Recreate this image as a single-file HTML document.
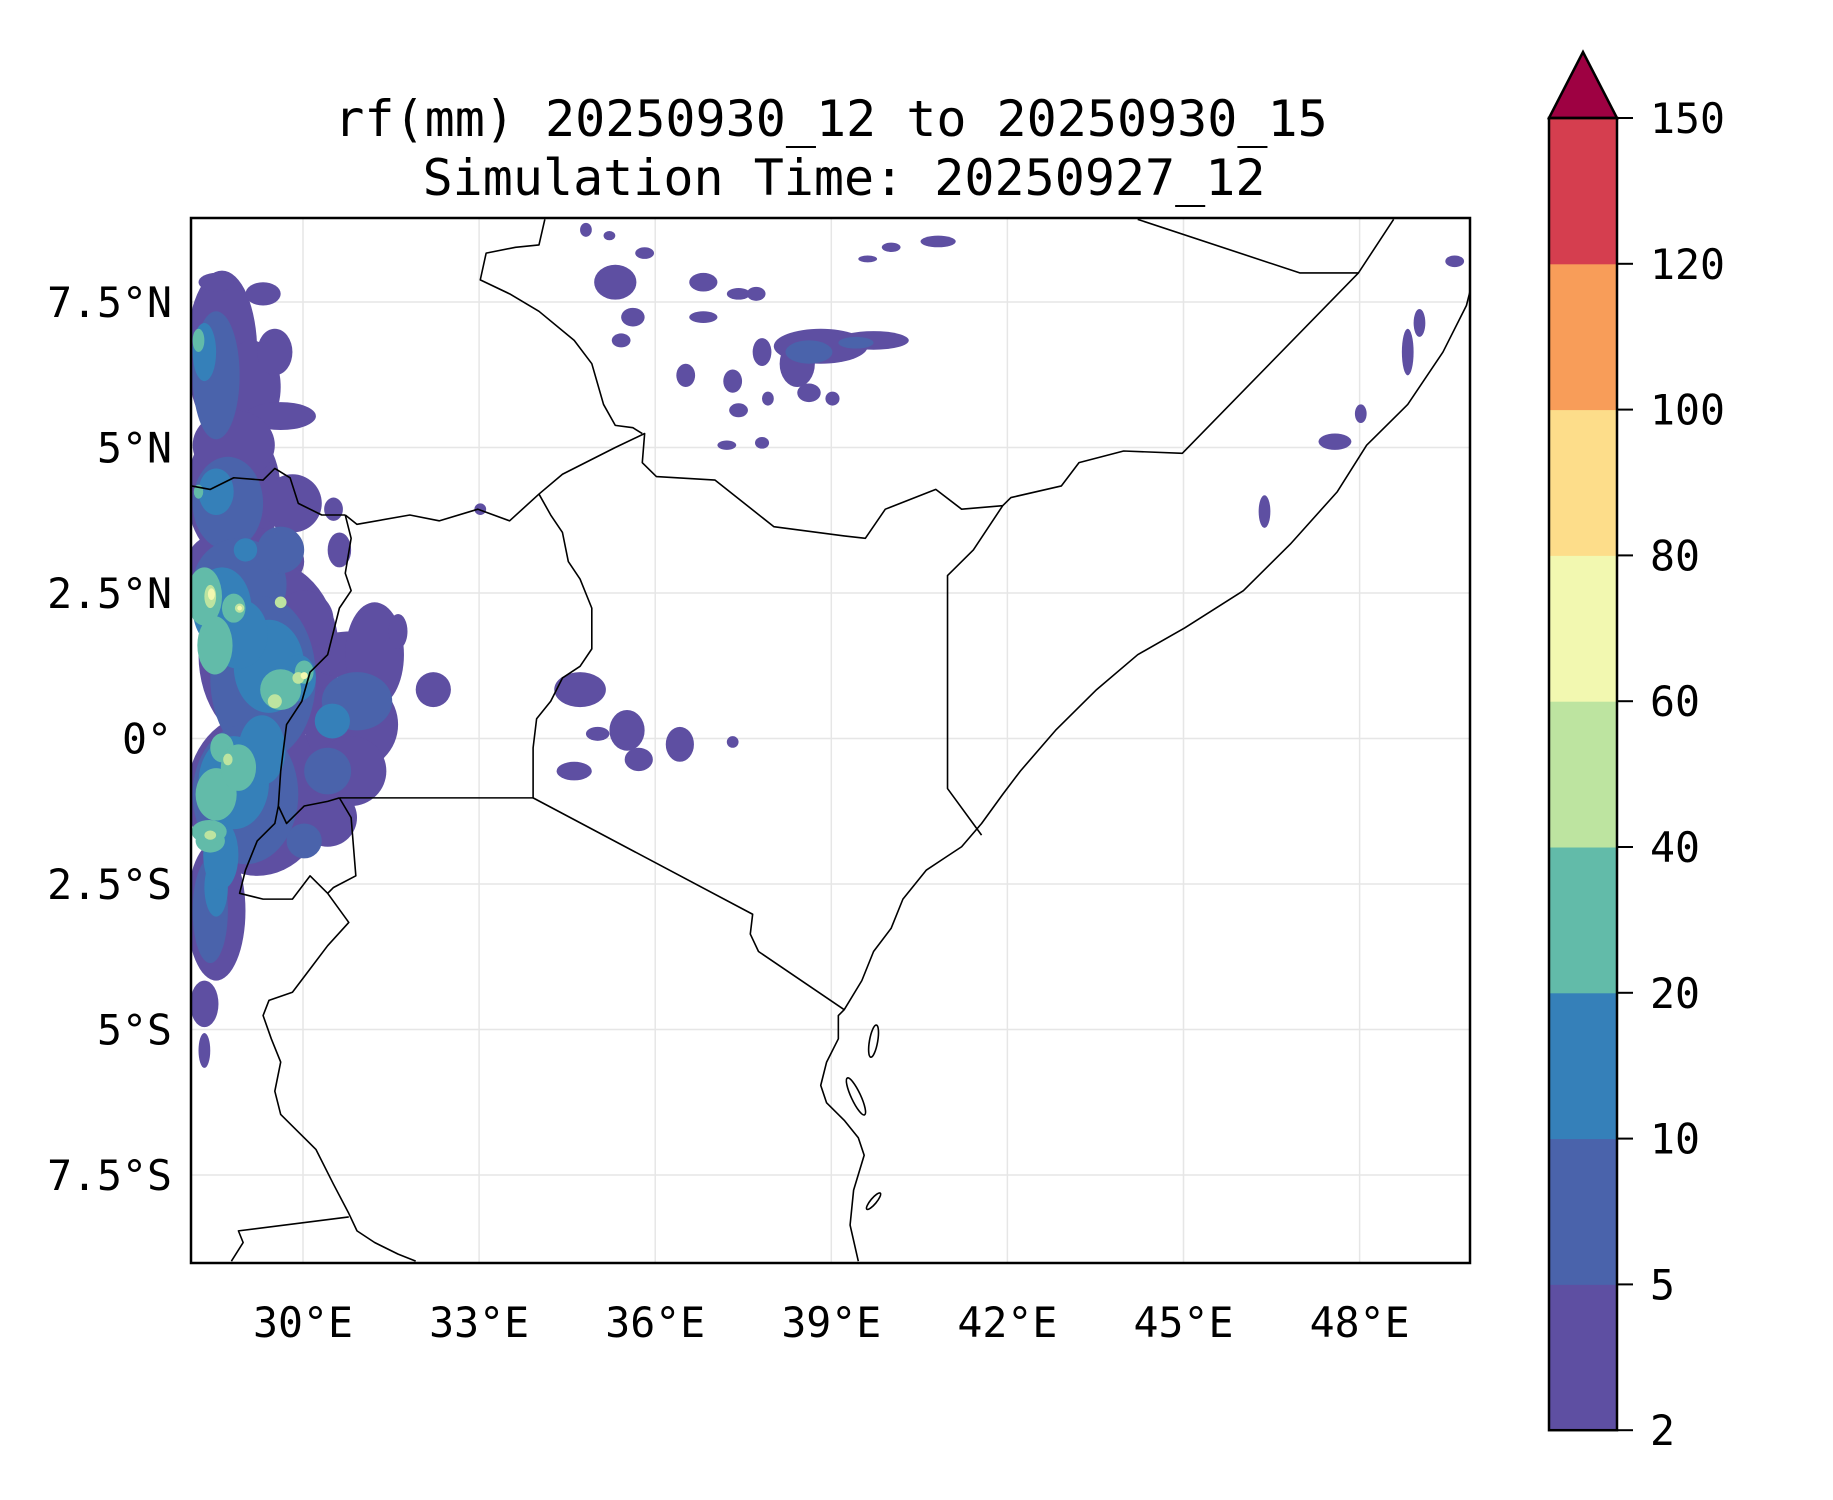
<!DOCTYPE html>
<html><head><meta charset="utf-8"><style>
html,body{margin:0;padding:0;background:#fff;}
svg{display:block;}
text{font-family:"DejaVu Sans Mono","Liberation Mono",monospace;fill:#000;}
</style></head><body>
<svg id="fig" width="1833" height="1500" viewBox="0 0 1833 1500">
<rect width="1833" height="1500" fill="#fff"/>
<text x="831" y="136" font-size="50" text-anchor="middle">rf(mm) 20250930_12 to 20250930_15</text>
<text x="844" y="195" font-size="50" text-anchor="middle">Simulation Time: 20250927_12</text>
<defs><clipPath id="ax"><rect x="191" y="218" width="1279" height="1045"/></clipPath></defs>
<g id="grid"></g>
<g id="rain" clip-path="url(#ax)"></g>
<g id="borders" clip-path="url(#ax)"></g>
<rect x="191" y="218" width="1279" height="1045" fill="none" stroke="#000" stroke-width="2.5"/>
<g id="ticks"></g>
<g id="cbar"></g>
</svg>
<script>
const lonTicks=[30,33,36,39,42,45,48];
const latTicks=[-7.5,-5,-2.5,0,2.5,5,7.5];
const latLabels=["7.5°S","5°S","2.5°S","0°","2.5°N","5°N","7.5°N"];
const lonLabels=["30°E","33°E","36°E","39°E","42°E","45°E","48°E"];
const levels=[2,5,10,20,40,60,80,100,120,150];
const levelColors=["#5e4fa2","#4a63ab","#3580b9","#62bba9","#bde4a0","#f2f8b0","#fddd8a","#f89d59","#d53e4f"];
const overColor="#9e0142";
// rain blobs: lon, lat, radius lon (deg), radius lat (deg), value (mm)
const blobLon=[28.62,28.82,29.02,29.42,29.22,28.52,28.32,28.32,29.12,29.62,29.32,28.52,30.82,31.22,30.82,30.82,30.42,32.22,31.62,29.82,30.52,30.62,30.02,29.52,28.82,34.72,34.62,35.02,35.52,35.72,36.42,37.32,35.32,35.62,35.42,34.82,35.82,36.82,37.42,36.52,37.32,37.82,38.42,38.82,39.72,38.62,37.42,37.92,37.22,37.82,33.02,36.82,37.72,39.02,40.82,40.02,35.22,39.62,46.38,47.58,48.02,48.82,49.02,49.62,
28.52,28.72,28.92,29.32,29.02,28.42,30.92,30.42,29.62,38.62,39.42,30.02,
28.32,28.52,28.62,29.42,28.82,28.52,29.02,29.92,28.9,29.3,28.6,30.5,
28.32,28.82,29.62,28.52,28.42,28.22,28.22,30.02,28.62,28.5,28.9,28.4,
28.42,28.92,29.62,29.52,29.92,28.72,28.42,
28.44,28.92,30.02];
const blobLat=[6.64,4.24,3.04,1.44,-0.96,-2.96,-4.56,-5.36,6.04,5.54,7.64,7.84,1.44,1.44,0.24,-0.56,-1.36,0.84,1.84,4.04,3.94,3.24,2.04,6.64,5.04,0.84,-0.56,0.08,0.14,-0.36,-0.1,-0.06,7.84,7.24,6.84,8.74,8.34,7.84,7.64,6.24,6.14,6.64,6.44,6.74,6.84,5.94,5.64,5.84,5.04,5.08,3.94,7.24,7.64,5.84,8.54,8.44,8.64,8.24,3.9,5.1,5.58,6.64,7.14,8.2,
6.24,4.04,2.64,1.04,-0.96,-2.96,0.64,-0.56,3.24,6.64,6.8,-1.76,
6.64,4.24,2.24,1.24,-0.76,-2.56,3.24,1.04,1.8,-0.2,-2.0,0.3,
2.44,2.24,0.84,-0.96,-1.76,6.84,4.24,1.14,-0.16,1.6,-0.5,-1.6,
2.44,2.24,2.34,0.64,1.04,-0.36,-1.66,
2.48,2.24,1.08];
const blobRx=[0.6,0.8,1.0,1.2,1.2,0.5,0.24,0.1,0.5,0.6,0.3,0.3,0.8,0.5,0.8,0.6,0.5,0.3,0.16,0.5,0.16,0.2,0.5,0.3,0.7,0.44,0.3,0.2,0.3,0.24,0.24,0.1,0.36,0.2,0.16,0.1,0.16,0.24,0.2,0.16,0.16,0.16,0.3,0.8,0.6,0.2,0.16,0.1,0.16,0.12,0.1,0.24,0.16,0.12,0.3,0.16,0.1,0.16,0.1,0.28,0.1,0.1,0.1,0.16,
0.4,0.6,0.8,0.9,0.9,0.3,0.6,0.4,0.4,0.4,0.3,0.3,
0.2,0.3,0.5,0.6,0.6,0.2,0.2,0.3,0.5,0.4,0.3,0.3,
0.3,0.2,0.35,0.35,0.25,0.1,0.08,0.16,0.2,0.3,0.3,0.3,
0.1,0.08,0.1,0.12,0.1,0.08,0.1,
0.06,0.04,0.06];
const blobRy=[1.4,1.2,0.6,1.6,1.4,1.2,0.4,0.3,0.8,0.24,0.2,0.16,0.4,0.9,0.8,0.6,0.5,0.3,0.3,0.5,0.2,0.3,0.5,0.4,0.6,0.3,0.16,0.12,0.35,0.2,0.3,0.1,0.3,0.16,0.12,0.12,0.1,0.16,0.1,0.2,0.2,0.24,0.4,0.3,0.16,0.16,0.12,0.12,0.08,0.1,0.1,0.1,0.12,0.12,0.1,0.08,0.08,0.06,0.28,0.14,0.16,0.4,0.24,0.1,
1.1,0.8,0.8,1.4,1.2,0.9,0.5,0.4,0.4,0.2,0.1,0.3,
0.5,0.4,0.7,0.8,0.8,0.5,0.2,0.4,0.6,0.6,0.6,0.3,
0.5,0.25,0.35,0.45,0.2,0.2,0.12,0.2,0.25,0.5,0.4,0.2,
0.2,0.08,0.1,0.12,0.1,0.1,0.08,
0.1,0.04,0.06];
const blobVal=[3,3,3,3,3,3,3,3,3,3,3,3,3,3,3,3,3,3,3,3,3,3,3,3,3,3,3,3,3,3,3,3,3,3,3,3,3,3,3,3,3,3,3,3,3,3,3,3,3,3,3,3,3,3,3,3,3,3,3,3,3,3,3,3,
7,7,7,7,7,7,7,7,7,7,7,7,
15,15,15,15,15,15,15,15,15,15,15,15,
30,30,30,30,30,30,30,30,30,30,30,30,
50,50,50,50,50,50,50,
70,70,70];
// border / coastline polylines: [lon,lat] pairs
const borderLines=[
[[33.92,-1.02],[37.66,-3.02],[37.62,-3.36],[37.76,-3.66],[39.22,-4.66]],
[[30.62,-1.02],[33.92,-1.02]],
[[39.46,-8.98],[39.32,-8.36],[39.38,-7.76],[39.56,-7.16],[39.46,-6.86],[39.22,-6.56],[38.92,-6.26],[38.82,-5.96],[38.92,-5.56],[39.12,-5.16],[39.12,-4.76],[39.22,-4.66],[39.52,-4.16],[39.72,-3.66],[40.02,-3.26],[40.22,-2.76],[40.62,-2.26],[40.92,-2.06],[41.22,-1.86],[41.56,-1.46],[41.92,-0.96],[42.22,-0.56],[42.82,0.14],[43.52,0.84],[44.22,1.44],[45.02,1.9],[46.02,2.54],[46.82,3.34],[47.62,4.24],[48.12,5.04],[48.82,5.74],[49.42,6.64],[49.82,7.44],[49.96,8.0],[50.06,8.24]],
[[44.22,8.92],[46.98,8.0],[47.98,8.0],[48.58,8.92]],
[[47.98,8.0],[44.98,4.9],[43.98,4.94],[43.22,4.74],[42.92,4.34],[42.06,4.14],[41.92,4.0],[41.42,3.24],[40.98,2.8],[40.98,-0.86],[41.56,-1.66]],
[[41.92,4.0],[41.22,3.94],[40.78,4.28],[39.92,3.94],[39.58,3.44],[39.22,3.48],[38.02,3.64],[37.02,4.44],[36.02,4.5],[35.78,4.74],[35.82,5.24],[35.32,5.0],[34.42,4.54],[34.02,4.2],[33.52,3.74],[32.98,3.94],[32.32,3.74],[31.82,3.84],[30.92,3.68],[30.72,3.84]],
[[35.78,5.24],[35.62,5.34],[35.32,5.38],[35.12,5.74],[34.92,6.44],[34.62,6.84],[34.02,7.34],[33.52,7.64],[33.02,7.88],[33.12,8.34],[33.62,8.44],[34.02,8.48],[34.12,8.92]],
[[34.02,4.2],[34.22,3.84],[34.42,3.54],[34.52,3.04],[34.72,2.74],[34.92,2.24],[34.92,1.54],[34.72,1.24],[34.42,1.04],[34.22,0.64],[33.98,0.34],[33.92,-0.16],[33.92,-1.02]],
[[30.72,3.84],[30.82,3.44],[30.72,2.84],[30.82,2.54],[30.62,2.24],[30.42,1.44],[30.12,1.14],[29.98,0.64],[29.72,0.24],[29.62,-0.56],[29.58,-1.16],[29.72,-1.46],[30.02,-1.16],[30.42,-1.08],[30.62,-1.02]],
[[28.1,4.34],[28.42,4.28],[28.82,4.48],[29.32,4.44],[29.52,4.64],[29.78,4.48],[29.92,4.04],[30.32,3.84],[30.72,3.84]],
[[29.58,-1.16],[29.52,-1.46],[29.22,-1.76],[29.02,-2.26],[28.92,-2.66],[29.32,-2.76],[29.82,-2.76],[30.12,-2.36],[30.42,-2.66],[30.78,-3.16],[30.42,-3.56],[30.12,-3.96],[29.82,-4.36],[29.42,-4.5],[29.32,-4.76],[29.46,-5.16],[29.62,-5.56],[29.52,-6.06],[29.62,-6.46],[29.92,-6.76],[30.22,-7.06],[30.52,-7.66],[30.78,-8.16],[30.92,-8.46],[31.22,-8.66],[31.62,-8.86],[31.92,-8.98]],
[[30.62,-1.02],[30.82,-1.36],[30.9,-2.36],[30.52,-2.56],[30.42,-2.66]],
[[28.78,-8.98],[28.98,-8.66],[28.9,-8.46],[30.78,-8.22]]
];
// islands: lon, lat, half-width, half-height (deg), rotation
const islandLon=[39.72,39.42,39.72];
const islandLat=[-5.2,-6.15,-7.95];
const islandRw=[0.07,0.08,0.05];
const islandRh=[0.28,0.35,0.18];
const islandRot=[10,-25,40];

const NS="http://www.w3.org/2000/svg";
const X=lon=>303+(lon-30)*58.7;
const Y=lat=>738.5-lat*58.2;
function mk(tag,attrs,parent){const e=document.createElementNS(NS,tag);for(const k in attrs)e.setAttribute(k,attrs[k]);parent.appendChild(e);return e;}
function colorFor(v){for(let i=0;i<levels.length-1;i++){if(v>=levels[i]&&v<levels[i+1])return levelColors[i];}return v>=150?overColor:null;}

const grid=document.getElementById('grid');
lonTicks.forEach(l=>{const e=mk('line',{x1:X(l),x2:X(l),y1:218,y2:1263,stroke:'#e6e6e6','stroke-width':1.5},grid);

});
latTicks.forEach(l=>{const e=mk('line',{x1:191,x2:1470,y1:Y(l),y2:Y(l),stroke:'#e6e6e6','stroke-width':1.5},grid);

});

const rain=document.getElementById('rain');
for(let i=0;i<blobVal.length;i++){
 const c=colorFor(blobVal[i]); if(!c)continue;
 const e=mk('ellipse',{cx:X(blobLon[i]),cy:Y(blobLat[i]),rx:blobRx[i]*58.7,ry:blobRy[i]*58.2,fill:c},rain);
 
 
}

const bord=document.getElementById('borders');
borderLines.forEach(line=>{
 const e=mk('polyline',{points:line.map(p=>X(p[0])+','+Y(p[1])).join(' '),fill:'none',stroke:'#000','stroke-width':1.6,'stroke-linejoin':'round'},bord);
 
 
});
for(let i=0;i<islandLon.length;i++){
 const cx=X(islandLon[i]),cy=Y(islandLat[i]);
 const e=mk('ellipse',{cx:cx,cy:cy,rx:islandRw[i]*58.7,ry:islandRh[i]*58.2,fill:'none',stroke:'#000','stroke-width':1.6,transform:`rotate(${islandRot[i]} ${cx} ${cy})`},bord);
 
 
}

const ticks=document.getElementById('ticks');
lonTicks.forEach((l,i)=>{const t=mk('text',{x:X(l),y:1337,'font-size':41.5,'text-anchor':'middle'},ticks);t.textContent=lonLabels[i];

});
latTicks.forEach((l,i)=>{const t=mk('text',{x:172,y:Y(l)+15,'font-size':41.5,'text-anchor':'end'},ticks);t.textContent=latLabels[i];

});

const cb=document.getElementById('cbar');
const cbTop=118,cbStep=145.8,cbL=1549,cbR=1617;
const cbY=i=>cbTop+(levels.length-1-i)*cbStep;
for(let i=0;i<levelColors.length;i++){
 const r=mk('rect',{x:cbL,y:cbY(i+1),width:cbR-cbL,height:cbStep+0.5,fill:levelColors[i]},cb);
 
 
}
const tri=mk('polygon',{points:`${cbL},${cbTop} ${(cbL+cbR)/2},52 ${cbR},${cbTop}`,fill:overColor,stroke:'#000','stroke-width':2.5,'stroke-linejoin':'miter'},cb);


const fr=mk('rect',{x:cbL,y:cbTop,width:cbR-cbL,height:cbY(0)-cbTop,fill:'none',stroke:'#000','stroke-width':2.5},cb);


levels.forEach((v,i)=>{
 const y=cbY(i);
 const tk=mk('line',{x1:cbR,x2:cbR+16,y1:y,y2:y,stroke:'#000','stroke-width':2},cb);
 
 
 const t=mk('text',{x:1650,y:y+15,'font-size':41.5},cb);t.textContent=v;
 
 
});
</script>
</body></html>
